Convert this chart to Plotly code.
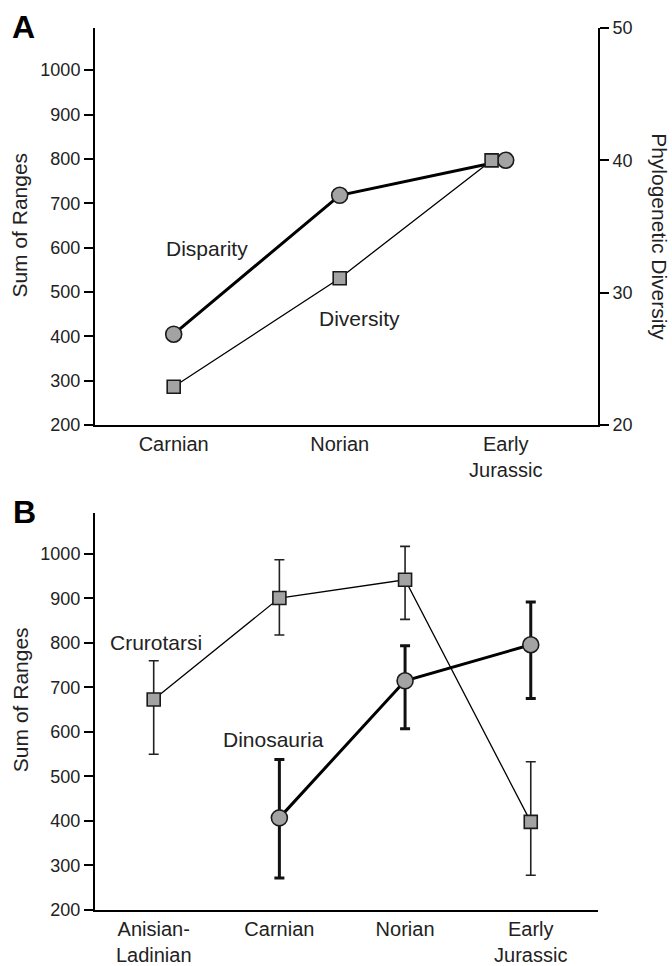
import plotly.graph_objects as go

# ---------------- data ----------------
cats_a = ["Carnian", "Norian", "Early<br>Jurassic"]
disparity = [405, 718, 797]          # Sum of Ranges (left axis)
diversity = [22.9, 31.1, 40.0]       # Phylogenetic Diversity (right axis)

cats_b = ["Anisian-<br>Ladinian", "Carnian", "Norian", "Early<br>Jurassic"]
cruro = [673, 901, 942, 398]
cruro_hi = [760, 987, 1017, 533]
cruro_lo = [550, 818, 853, 278]
dino = [None, 407, 715, 796]
dino_hi = [None, 538, 794, 892]
dino_lo = [None, 272, 607, 675]

left_ticks = [200, 300, 400, 500, 600, 700, 800, 900, 1000]
right_ticks = [20, 30, 40, 50]

# ---------------- style ----------------
FONT = "Liberation Sans, Arial, Helvetica, sans-serif"
FILL = "#a3a3a3"
EDGE = "#1a1a1a"
EJ_SQUARE_SHIFT = -0.085  # square drawn just left of circle at last stage

xa = list(range(len(cats_a)))
xb = list(range(len(cats_b)))
div_x = [x + (EJ_SQUARE_SHIFT if i == len(xa) - 1 else 0) for i, x in enumerate(xa)]

def err(vals, hi, lo):
    plus = [None if v is None else h - v for v, h in zip(vals, hi)]
    minus = [None if v is None else v - l for v, l in zip(vals, lo)]
    return plus, minus

fig = go.Figure()

# Panel A
fig.add_trace(go.Scatter(
    x=div_x, y=diversity, xaxis="x", yaxis="y3", mode="lines+markers",
    line=dict(color="black", width=1.3),
    marker=dict(symbol="square", size=13, color=FILL, line=dict(color=EDGE, width=1.6)),
    showlegend=False, cliponaxis=False))
fig.add_trace(go.Scatter(
    x=xa, y=disparity, xaxis="x", yaxis="y", mode="lines+markers",
    line=dict(color="black", width=3),
    marker=dict(symbol="circle", size=16, color=FILL, line=dict(color=EDGE, width=1.6)),
    showlegend=False, cliponaxis=False))

# Panel B
cp, cm = err(cruro, cruro_hi, cruro_lo)
fig.add_trace(go.Scatter(
    x=xb, y=cruro, xaxis="x2", yaxis="y2", mode="lines+markers",
    line=dict(color="black", width=1.3),
    marker=dict(symbol="square", size=13, color=FILL, line=dict(color=EDGE, width=1.6)),
    error_y=dict(type="data", symmetric=False, array=cp, arrayminus=cm,
                 color="#222", thickness=1.6, width=5),
    showlegend=False, cliponaxis=False))
dp, dm = err(dino, dino_hi, dino_lo)
fig.add_trace(go.Scatter(
    x=xb, y=dino, xaxis="x2", yaxis="y2", mode="lines+markers",
    line=dict(color="black", width=3),
    marker=dict(symbol="circle", size=16, color=FILL, line=dict(color=EDGE, width=1.6)),
    error_y=dict(type="data", symmetric=False, array=dp, arrayminus=dm,
                 color="#111", thickness=3, width=5),
    showlegend=False, cliponaxis=False))

axis_common = dict(showgrid=False, zeroline=False, showline=True, linecolor="black",
                   linewidth=2, automargin=False,
                   tickfont=dict(family=FONT, size=18, color="#222"))
xcommon = dict(axis_common, ticks="",
               tickfont=dict(family=FONT, size=20, color="#222"))
ycommon = dict(axis_common, ticks="outside", ticklen=9, tickwidth=2, tickcolor="black")

fig.update_layout(
    width=672, height=966,
    margin=dict(l=95, r=74, t=28, b=56, autoexpand=False),
    paper_bgcolor="white", plot_bgcolor="white",
    font=dict(family=FONT, color="#222"),
    xaxis=dict(xcommon, domain=[0, 1], anchor="y", range=[-0.474, 2.556],
               tickvals=xa, ticktext=cats_a),
    yaxis=dict(ycommon, domain=[0.5497, 1], anchor="x", range=[200, 1095],
               tickvals=left_ticks),
    yaxis3=dict(ycommon, overlaying="y", side="right", anchor="x", range=[20, 50],
                tickvals=right_ticks),
    xaxis2=dict(xcommon, domain=[0, 1], anchor="y2", range=[-0.467, 3.535],
                tickvals=xb, ticktext=cats_b),
    yaxis2=dict(ycommon, domain=[0, 0.4501], anchor="x2", range=[200, 1092],
                tickvals=left_ticks),
)

ann_font = dict(family=FONT, size=21, color="#222")
annotations = [
    dict(text="<b>A</b>", xref="paper", yref="paper", x=-0.142, y=1.0017,
         font=dict(family=FONT, size=32, color="black")),
    dict(text="<b>B</b>", xref="paper", yref="paper", x=-0.141, y=0.451,
         font=dict(family=FONT, size=32, color="black")),
    dict(text="Sum of Ranges", xref="paper", yref="paper", x=-0.149, y=0.776,
         textangle=-90, font=ann_font),
    dict(text="Sum of Ranges", xref="paper", yref="paper", x=-0.149, y=0.238,
         textangle=-90, font=ann_font),
    dict(text="Phylogenetic Diversity", xref="paper", yref="paper", x=1.123, y=0.763,
         textangle=90, font=ann_font),
    dict(text="Disparity", xref="x", yref="y", x=0.2, y=597, font=ann_font),
    dict(text="Diversity", xref="x", yref="y", x=1.12, y=441, font=ann_font),
    dict(text="Crurotarsi", xref="x2", yref="y2", x=0.02, y=800, font=ann_font),
    dict(text="Dinosauria", xref="x2", yref="y2", x=0.957, y=583, font=ann_font),
]
for a in annotations:
    a.update(showarrow=False, xanchor="center", yanchor="middle")
fig.update_layout(annotations=annotations)

fig.write_html("out.html", config={"displayModeBar": False},
               post_script="document.body.style.margin='0';")
